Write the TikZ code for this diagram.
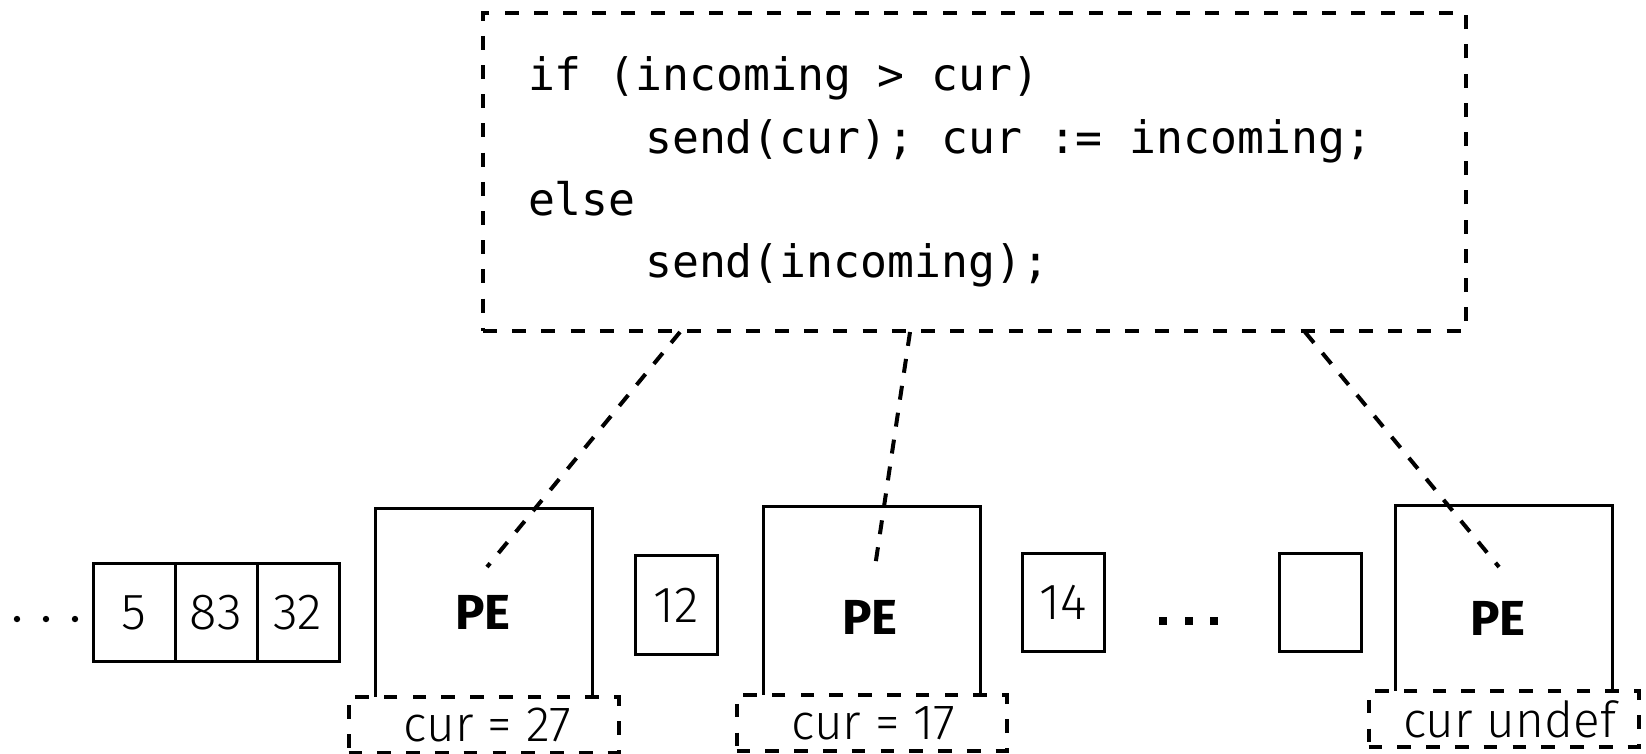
\documentclass[tikz,border=0pt]{standalone}
\usepackage{fontspec}
\newfontfamily\codefont{DejaVu Sans Mono}
\newfontfamily\thinfont{Fira Sans Light}
\newfontfamily\pefont{Fira Sans}
\usetikzlibrary{calc}

% one character cell of the code font
\newcommand\csp{\hphantom{x}}

\tikzset{
  cell/.style={draw, line width=0.75pt, minimum width=20.5pt, minimum height=24.6pt,
    inner sep=0pt, font=\thinfont\fontsize{12.7}{14}\selectfont},
  pebox/.style={minimum width=54pt, minimum height=47pt, inner sep=0pt},
  pelabel/.style={font=\pefont\bfseries\fontsize{12.3}{14}\selectfont},
  curbox/.style={draw, line width=1pt, dash pattern=on 3.4pt off 3.8pt, fill=white,
    minimum width=67.5pt, minimum height=14pt, inner sep=0pt,
    font=\thinfont\fontsize{12.4}{14}\selectfont},
  link/.style={line width=1pt, dash pattern=on 3.5pt off 3.3pt},
}

\begin{document}
\begin{tikzpicture}[x=0.25pt, y=-0.25pt]
  \useasboundingbox (0,0) rectangle (1646,753);

  % code of each PE
  \node[draw, line width=1pt, dash pattern=on 3.5pt off 3.8pt,
    minimum width=245.75pt, minimum height=79.5pt, text width=223.25pt,
    inner xsep=11.25pt, align=left,
    font=\codefont\fontsize{11.18}{15.6}\selectfont] (code) at (974.5,172)
    {if\csp(incoming\csp>\csp cur)\\
     \hspace*{29.3pt}send(cur);\csp cur\csp:=\csp incoming;\\
     else\\
     \hspace*{29.3pt}send(incoming);};

  % input queue
  \foreach \x/\v [count=\i] in {134/5, 216/83, 298/32}
    \node[cell] (q\i) at (\x,612.5) {\v};
  \foreach \x in {17, 46, 75}
    \fill (\x,619) circle (3.2);

  % values between the PEs
  \node[cell] (v1) at (676.5,605) {12};
  \node[cell] (v2) at (1063.5,602.5) {14};
  \node[cell] (v3) at (1320,602.5) {};
  \foreach \x in {1163, 1189, 1214}
    \fill (\x-4,617) rectangle (\x+4,625);

  % PEs
  \node[pebox] (pe1) at (484,603) {};
  \node[pebox] (pe2) at (872,601.5) {};
  \node[pebox] (pe3) at (1504,600) {};
  \foreach \p in {pe1, pe2, pe3}
    \draw[line width=0.75pt] (\p.south west) -- (\p.north west) -- (\p.north east) -- (\p.south east);
  \node[pelabel] (pe1l) at (483,612) {PE};
  \node[pelabel] (pe2l) at (870,617) {PE};
  \node[pelabel] (pe3l) at (1498,618) {PE};

  % state of each PE
  \node[curbox] (cur1) at (483.5,724.5) {\hspace*{2pt}cur = 27};
  \node[curbox] (cur2) at (871.5,723) {\hspace*{1pt}cur = 17};
  \node[curbox] (cur3) at (1503.5,719) {\hspace*{3pt}cur undef};

  % links from the code to the PEs
  \coordinate (t1) at (680,332);
  \coordinate (t2) at (910,332);
  \coordinate (t3) at (1305,332);
  \coordinate (b1) at (487,567);
  \coordinate (b2) at (875,567);
  \coordinate (b3) at (1499,567);
  \draw[link] (t1) -- (b1);
  \draw[link] (t2) -- (b2);
  \draw[link] (t3) -- (b3);
\end{tikzpicture}
\end{document}
